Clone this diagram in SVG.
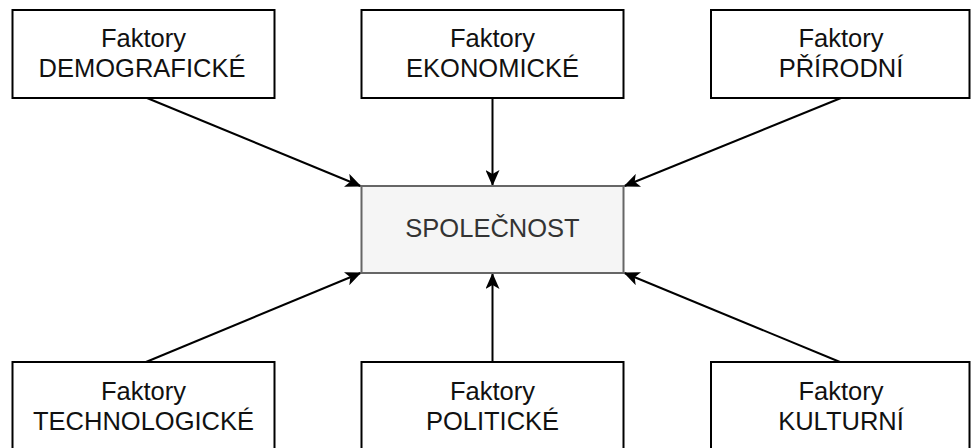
<svg xmlns="http://www.w3.org/2000/svg" width="971" height="448" viewBox="0 0 971 448">
  <style>
    .box { fill: #ffffff; stroke: #000000; stroke-width: 2; }
    .core { fill: #f5f5f5; stroke: #666666; stroke-width: 2; }
    .lbl { font-family: "Liberation Sans", Arial, sans-serif; font-size: 25.5px; fill: #111111; text-anchor: middle; }
    .core-lbl { fill: #333333; }
    .edge { fill: none; stroke: #000000; stroke-width: 2; marker-end: url(#arrow); }
  </style>
  <defs>
    <!-- classic filled arrowhead with a shallow notch -->
    <marker id="arrow" viewBox="0 0 16 14" refX="15" refY="7" markerWidth="16" markerHeight="14" markerUnits="userSpaceOnUse" orient="auto">
      <path d="M0,0 L16,7 L0,14 L4,7 Z" fill="#000000"/>
    </marker>
  </defs>
  <rect width="971" height="448" fill="#ffffff"/>

  <g id="edges">
    <line class="edge" x1="147" y1="98" x2="360.5" y2="186"/>
    <line class="edge" x1="492.5" y1="98" x2="492.5" y2="185"/>
    <line class="edge" x1="841" y1="98" x2="624.5" y2="186"/>
    <line class="edge" x1="146" y1="362" x2="360.5" y2="273"/>
    <line class="edge" x1="492.5" y1="362" x2="492.5" y2="274"/>
    <line class="edge" x1="840" y1="362" x2="624.5" y2="273"/>
  </g>

  <g id="spolecnost">
    <rect class="core" x="361.5" y="186" width="262" height="87"/>
    <text class="lbl core-lbl" x="492.5" y="237">SPOLEČNOST</text>
  </g>

  <g id="demograficke">
    <rect class="box" x="12.5" y="10" width="262" height="88"/>
    <text class="lbl" x="143.5" y="47">Faktory</text>
    <text class="lbl" x="142" y="77">DEMOGRAFICKÉ</text>
  </g>

  <g id="ekonomicke">
    <rect class="box" x="361.5" y="10" width="262" height="88"/>
    <text class="lbl" x="492.5" y="47">Faktory</text>
    <text class="lbl" x="492.5" y="77">EKONOMICKÉ</text>
  </g>

  <g id="prirodni">
    <rect class="box" x="711" y="10" width="258.5" height="88"/>
    <text class="lbl" x="841" y="47">Faktory</text>
    <text class="lbl" x="841" y="77">PŘÍRODNÍ</text>
  </g>

  <g id="technologicke">
    <rect class="box" x="12.5" y="362" width="262" height="100"/>
    <text class="lbl" x="143.5" y="400">Faktory</text>
    <text class="lbl" x="143.5" y="430">TECHNOLOGICKÉ</text>
  </g>

  <g id="politicke">
    <rect class="box" x="361.5" y="362" width="262" height="100"/>
    <text class="lbl" x="492.5" y="400">Faktory</text>
    <text class="lbl" x="492.5" y="430">POLITICKÉ</text>
  </g>

  <g id="kulturni">
    <rect class="box" x="711" y="362" width="258.5" height="100"/>
    <text class="lbl" x="841" y="400">Faktory</text>
    <text class="lbl" x="841" y="430">KULTURNÍ</text>
  </g>
</svg>
